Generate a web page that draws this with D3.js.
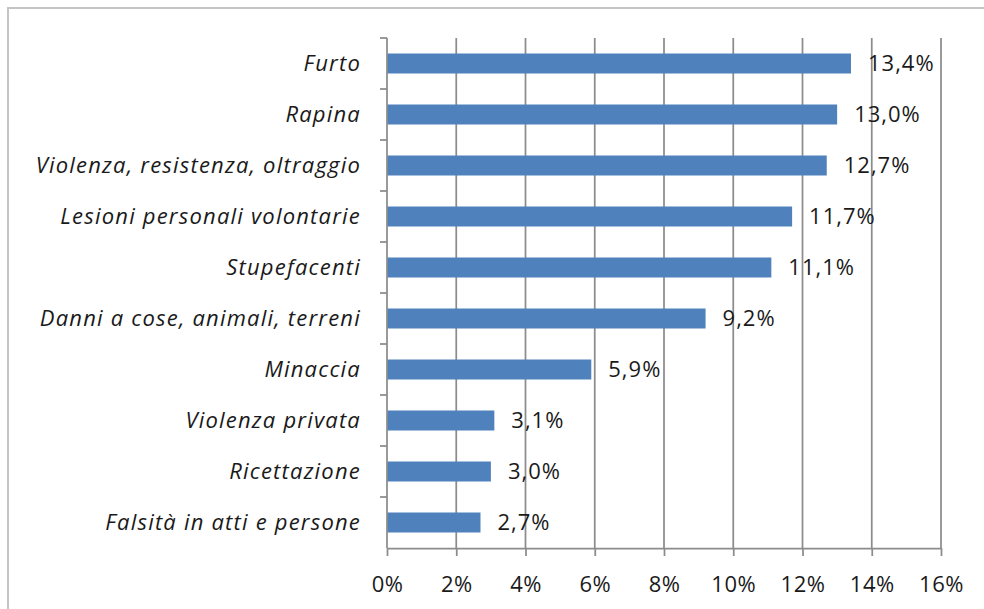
<!DOCTYPE html>
<html>
<head>
<meta charset="utf-8">
<script src="https://cdn.jsdelivr.net/npm/d3@7"></script>
<style>
  body { margin: 0; background: #fff; }
  svg text { font-family: "Open Sans", "Noto Sans", sans-serif; fill: #1a1a1a; }
</style>
</head>
<body>
<svg id="chart" width="984" height="609"></svg>
<script>
// categories, top to bottom
var categories = ["Furto", "Rapina", "Violenza, resistenza, oltraggio", "Lesioni personali volontarie",
    "Stupefacenti", "Danni a cose, animali, terreni", "Minaccia", "Violenza privata",
    "Ricettazione", "Falsità in atti e persone"];
var values = [13.4, 13.0, 12.7, 11.7, 11.1, 9.2, 5.9, 3.1, 3.0, 2.7];
var xTicks = [0, 2, 4, 6, 8, 10, 12, 14, 16];

var svg = d3.select("#chart");
var plotLeft = 387, plotRight = 941, plotTop = 38, plotBottom = 548;
var gridColor = "#8c8c8c";

// outer frame
svg.append("rect")
    .attr("x", 8).attr("y", 8)
    .attr("width", 1000).attr("height", 700)
    .attr("fill", "none")
    .attr("stroke", "#c4c4c4")
    .attr("stroke-width", 2);

var x = d3.scaleLinear().domain([0, 16]).range([plotLeft, plotRight]);
var band = d3.scaleBand().domain(categories).range([plotTop, plotBottom]);

// vertical gridlines
svg.append("g").selectAll("line")
    .data(xTicks.slice(1))
    .enter().append("line")
    .attr("x1", function(d) { return x(d); })
    .attr("x2", function(d) { return x(d); })
    .attr("y1", plotTop).attr("y2", plotBottom)
    .attr("stroke", gridColor)
    .attr("stroke-width", 1.75);

// bars
svg.append("g").selectAll("rect")
    .data(values)
    .enter().append("rect")
    .attr("x", x(0))
    .attr("y", function(d, i) { return band(categories[i]) + band.bandwidth() / 2 - 10; })
    .attr("width", function(d) { return x(d) - x(0); })
    .attr("height", 20)
    .attr("fill", "#4f81bd");

// value labels
svg.append("g").selectAll("text")
    .data(values)
    .enter().append("text")
    .attr("x", function(d) { return x(d) + 17; })
    .attr("y", function(d, i) { return band(categories[i]) + band.bandwidth() / 2; })
    .attr("dy", "0.35em")
    .style("font-size", "22px")
    .style("letter-spacing", "1px")
    .text(function(d) { return d.toFixed(1).replace(".", ",") + "%"; });

// x axis
var xAxis = d3.axisBottom(x)
    .tickValues(xTicks)
    .tickSizeInner(8)
    .tickSizeOuter(0)
    .tickPadding(20)
    .tickFormat(function(d) { return d + "%"; });
var gx = svg.append("g").attr("transform", "translate(0," + plotBottom + ")").call(xAxis);
gx.select(".domain").attr("stroke", gridColor).attr("stroke-width", 1.75);
gx.selectAll(".tick line").attr("stroke", gridColor).attr("stroke-width", 1.75);
gx.selectAll(".tick text").style("font-size", "22px").style("letter-spacing", "0.5px").attr("fill", "#1a1a1a");

// y axis line and tick marks at band boundaries
svg.append("line")
    .attr("x1", plotLeft).attr("x2", plotLeft)
    .attr("y1", plotTop).attr("y2", plotBottom)
    .attr("stroke", gridColor).attr("stroke-width", 1.75);
svg.append("g").selectAll("line")
    .data(categories)
    .enter().append("line")
    .attr("x1", plotLeft - 7).attr("x2", plotLeft)
    .attr("y1", function(d) { return band(d); })
    .attr("y2", function(d) { return band(d); })
    .attr("stroke", gridColor).attr("stroke-width", 1.75);

// category labels
svg.append("g").selectAll("text")
    .data(categories)
    .enter().append("text")
    .attr("x", 361)
    .attr("y", function(d) { return band(d) + band.bandwidth() / 2; })
    .attr("dy", "0.35em")
    .attr("text-anchor", "end")
    .style("font-style", "italic")
    .style("font-size", "22px")
    .style("letter-spacing", "1.2px")
    .text(function(d) { return d; });
</script>
</body>
</html>
